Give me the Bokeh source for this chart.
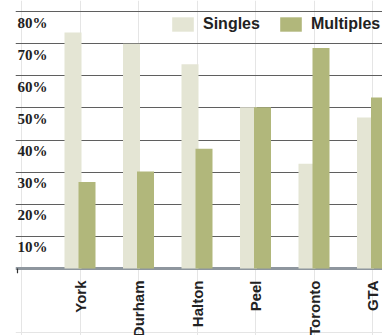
import math

from bokeh.plotting import figure
from bokeh.models import (ColumnDataSource, Range1d, FixedTicker, Grid, LabelSet,
                          Legend, LegendItem, Span)
from bokeh.core.properties import value
from bokeh.embed import file_html
from bokeh.resources import INLINE

# Share of dwellings (%) by region
regions = ["York", "Durham", "Halton", "Peel", "Toronto", "GTA"]
singles = [73.5, 70.0, 63.6, 50.2, 32.6, 47.0]
multiples = [26.9, 30.2, 37.3, 50.2, 68.6, 53.2]

y_ticks = [10, 20, 30, 40, 50, 60, 70, 80]
y_tick_labels = [f"{t}%" for t in y_ticks]

SINGLES_COLOR = "#e4e5d4"
MULTIPLES_COLOR = "#b1b77b"
TEXT_COLOR = "#222222"
FONT = "Liberation Sans"

# Layout geometry (the plotting frame runs to the bottom of the canvas so
# that the rotated region names can be drawn as glyphs below the baseline)
W, H = 382, 335
LEFT = 15
FRAME_W, FRAME_H = W - LEFT, H
GROUP_PX = 58.5          # pixels between region groups
FIRST_CENTER_PX = 64.5   # first group centre, from the frame's left edge
BAR_PX = 17
DODGE_PX = 7
PX_PER_PCT = 3.2125
TOP_GAP_PX = 11          # space above the 80% gridline

x_lo = -FIRST_CENTER_PX / GROUP_PX
x_hi = x_lo + FRAME_W / GROUP_PX
y_hi = max(y_ticks) + TOP_GAP_PX / PX_PER_PCT
y_lo = y_hi - FRAME_H / PX_PER_PCT

idx = list(range(len(regions)))
bar_w = BAR_PX / GROUP_PX
dodge = DODGE_PX / GROUP_PX

src = ColumnDataSource(dict(
    xs=[i - dodge for i in idx],
    xm=[i + dodge for i in idx],
    singles=singles,
    multiples=multiples,
))

p = figure(width=W, height=H,
           x_range=Range1d(x_lo, x_hi), y_range=Range1d(y_lo, y_hi),
           x_axis_location=None, y_axis_location=None,
           output_backend="svg", toolbar_location=None,
           min_border_left=LEFT, min_border_right=0,
           min_border_top=0, min_border_bottom=0)
p.outline_line_color = None
p.background_fill_color = "white"
p.border_fill_color = "white"

# horizontal gridlines
grid = Grid(dimension=1, ticker=FixedTicker(ticks=y_ticks),
            grid_line_color="#5f5f5f", grid_line_width=1.2)
p.add_layout(grid)

# grey baseline under the bars
p.add_layout(Span(location=0, dimension="width", line_color="#8e969e",
                  line_width=3, level="underlay"))

# small tick at the left end of the baseline
tick_x = x_lo + 2 / GROUP_PX
p.segment(x0=[tick_x], y0=[0], x1=[tick_x], y1=[-1.5],
          line_color="#333333", line_width=1.2)

r_s = p.vbar(x="xs", top="singles", bottom=0, width=bar_w, source=src,
             fill_color=SINGLES_COLOR, line_color=None)
r_m = p.vbar(x="xm", top="multiples", bottom=0, width=bar_w, source=src,
             fill_color=MULTIPLES_COLOR, line_color=None)

# y tick labels, sitting just under each gridline
ysrc = ColumnDataSource(dict(x=[x_lo] * len(y_ticks), y=y_ticks, text=y_tick_labels))
p.add_layout(LabelSet(x="x", y="y", text="text", source=ysrc,
                      x_offset=2, y_offset=-16,
                      text_baseline="alphabetic", text_align="left",
                      text_font=FONT, text_font_style="bold",
                      text_font_size="15px", text_color=TEXT_COLOR))

# region names, reading upwards, ending just below the baseline
name_y = -12 / PX_PER_PCT
xsrc = ColumnDataSource(dict(x=idx, y=[name_y] * len(idx), text=regions))
p.text(x="x", y="y", text="text", source=xsrc, angle=math.pi / 2,
       text_align="right", text_baseline="middle",
       text_font=value(FONT), text_font_style="bold",
       text_font_size="15px", text_color=TEXT_COLOR)

legend = Legend(items=[LegendItem(label="Singles", renderers=[r_s]),
                       LegendItem(label="Multiples", renderers=[r_m])],
                location=(154, FRAME_H - 33), orientation="horizontal",
                glyph_width=27, glyph_height=18, label_standoff=7,
                spacing=17, padding=0, margin=0,
                background_fill_alpha=0, border_line_color=None,
                label_text_font=FONT, label_text_font_style="bold",
                label_text_font_size="16px", label_text_color=TEXT_COLOR)
p.add_layout(legend)

open("out.html", "w").write(file_html(p, INLINE))
